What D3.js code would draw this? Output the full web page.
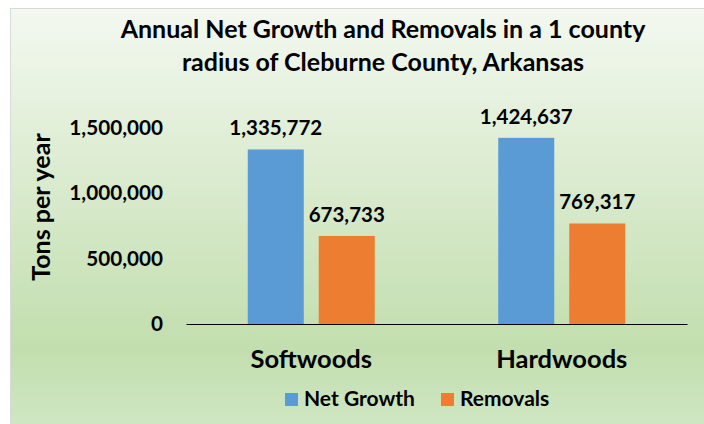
<!DOCTYPE html>
<html><head><meta charset="utf-8">
<script src="https://cdn.jsdelivr.net/npm/d3@7"></script>
<style>html,body{margin:0;padding:0;background:#fff;}svg{display:block;}text{font-family:Lato,"Noto Sans",sans-serif;font-weight:bold;fill:#000;}</style>
</head><body>
<script>
const categories = ["Softwoods", "Hardwoods"];
const seriesNames = ["Net Growth", "Removals"];
const netGrowth = [1335772, 1424637];
const removals = [673733, 769317];
const yTicks = [0, 500000, 1000000, 1500000];
const titleLines = ["Annual Net Growth and Removals in a 1 county", "radius of Cleburne County, Arkansas"];
const yTitle = "Tons per year";
const colors = ["#5b9bd5", "#ed7d31"];

const W = 704, H = 424;
const svg = d3.select("body").append("svg").attr("width", W).attr("height", H);
const defs = svg.append("defs");
const grad = defs.append("linearGradient").attr("id", "bg").attr("x1", 0).attr("y1", 0).attr("x2", 0).attr("y2", 1);
grad.append("stop").attr("offset", "0").attr("stop-color", "#f3f8f0");
grad.append("stop").attr("offset", "0.78").attr("stop-color", "#c2deae");
grad.append("stop").attr("offset", "1").attr("stop-color", "#d2e8c7");

svg.append("rect").attr("x", 10.5).attr("y", 8.5).attr("width", W + 10).attr("height", H + 10)
  .attr("fill", "url(#bg)").attr("stroke", "#d9d9d9").attr("stroke-width", 1);

const plot = {left: 186, right: 687, top: 128, bottom: 324};
const y = d3.scaleLinear().domain([0, 1500000]).range([plot.bottom, plot.top]);
const x0 = d3.scaleBand().domain(categories).range([plot.left, plot.right]).padding(0);
const groupW = 127;
const x1 = d3.scaleBand().domain(seriesNames).range([0, groupW]).paddingInner(0.211).paddingOuter(0);

const fmt = d3.format(",");
const data = categories.map((c, i) => ({cat: c, vals: [netGrowth[i], removals[i]]}));

// title
svg.append("g").selectAll("text").data(titleLines).join("text")
  .attr("x", 383).attr("y", (d, i) => 38 + i * 33)
  .attr("text-anchor", "middle").style("font-size", "25px").text(d => d);

// y axis (labels only)
const yAxis = d3.axisLeft(y).tickValues(yTicks).tickFormat(fmt).tickSize(0).tickPadding(0);
const gy = svg.append("g").attr("transform", `translate(163,0)`).call(yAxis);
gy.select(".domain").remove();
gy.selectAll("text").style("font-size", "20.7px").style("font-family", "Lato, sans-serif").style("font-weight", "bold").attr("fill", "#000");

// y title
svg.append("text").attr("transform", "translate(50,207) rotate(-90)")
  .attr("text-anchor", "middle").style("font-size", "25px").text(yTitle);

// bars
const groups = svg.append("g").selectAll("g").data(data).join("g")
  .attr("transform", d => `translate(${x0(d.cat) + (x0.bandwidth() - groupW) / 2},0)`);
groups.selectAll("rect").data(d => d.vals.map((v, j) => ({s: seriesNames[j], v, j}))).join("rect")
  .attr("x", d => x1(d.s)).attr("width", x1.bandwidth())
  .attr("y", d => y(d.v)).attr("height", d => y(0) - y(d.v))
  .attr("fill", d => colors[d.j]);
groups.selectAll("text").data(d => d.vals.map((v, j) => ({s: seriesNames[j], v, j}))).join("text")
  .attr("x", d => x1(d.s) + x1.bandwidth() / 2).attr("y", d => y(d.v) - 14)
  .attr("text-anchor", "middle").style("font-size", "20.5px").text(d => fmt(d.v));

// x axis
const xAxis = d3.axisBottom(x0).tickSize(0).tickPadding(0);
const gx = svg.append("g").attr("transform", `translate(0,${plot.bottom})`).call(xAxis);
gx.select(".domain").attr("stroke", "#000").attr("stroke-width", 1.2);
gx.selectAll("text").attr("dy", 0).attr("y", 44).style("font-size", "25.5px").style("font-family", "Lato, sans-serif").style("font-weight", "bold").attr("fill", "#000");

// legend
const legendX = [285, 441];
const lg = svg.append("g").selectAll("g").data(seriesNames).join("g")
  .attr("transform", (d, i) => `translate(${legendX[i]},393)`);
lg.append("rect").attr("width", 13).attr("height", 13).attr("fill", (d, i) => colors[i]);
lg.append("text").attr("x", 19).attr("y", 13).style("font-size", "21px").text(d => d);
</script>
</body></html>
